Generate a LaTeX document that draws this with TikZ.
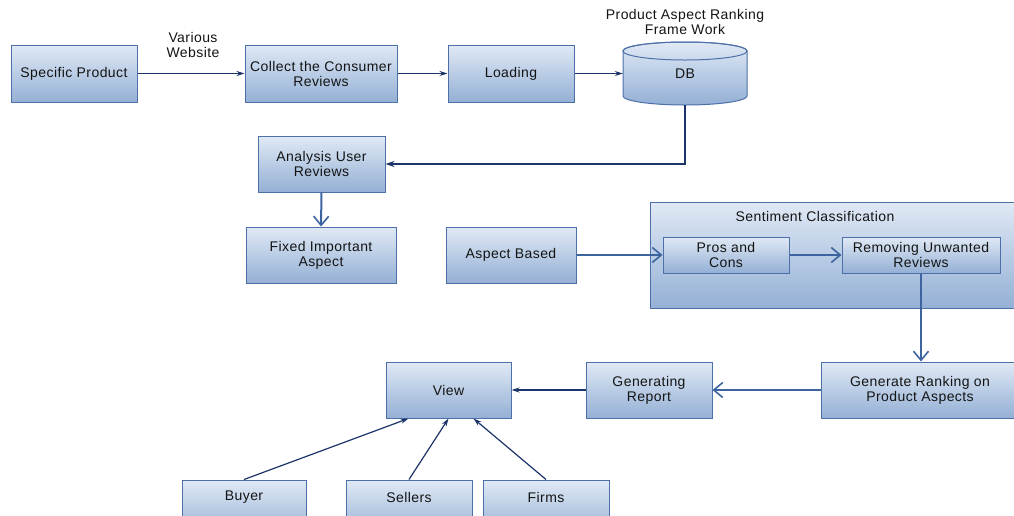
\documentclass[tikz,border=0pt]{standalone}
\usepackage{fontspec}
\setmainfont[LetterSpace=3]{Liberation Sans}
\usetikzlibrary{arrows.meta,calc}
\definecolor{boxtop}{RGB}{224,233,245}
\definecolor{boxbot}{RGB}{148,176,213}
\definecolor{boxline}{RGB}{78,112,168}
\definecolor{navy}{RGB}{28,52,105}
\definecolor{steel}{RGB}{62,100,160}
\definecolor{txt}{RGB}{20,20,20}
\tikzset{
  flowbox/.style={draw=boxline, line width=1pt, top color=boxtop, bottom color=boxbot,
    rectangle, inner sep=0pt, align=center, text=txt,
    font=\fontsize{14}{15}\selectfont},
  plain/.style={inner sep=0pt, align=center, text=txt, font=\fontsize{14}{15}\selectfont},
  arrA/.style={draw=navy, line width=1.2pt, -{Stealth[length=8pt,width=5pt]}},
  arrAthick/.style={draw=navy, line width=2pt, -{Stealth[length=9pt,width=6pt]}},
  arrB/.style={draw=steel, line width=2pt, -{Straight Barb[length=9pt,width=15pt,line width=1.6pt]}},
}
\begin{document}
\begin{tikzpicture}[x=1pt,y=-1pt]
\useasboundingbox (0,0) rectangle (1014,515);
\clip (0,0) rectangle (1014,515);
\fill[white] (0,0) rectangle (1014,515);

% top row
\node[flowbox, minimum width=126pt, minimum height=57pt] (sp) at (74,73.5) {Specific Product};
\node[flowbox, minimum width=152pt, minimum height=57pt] (col) at (321,73.5) {Collect the Consumer\\Reviews};
\node[flowbox, minimum width=126pt, minimum height=57pt] (load) at (511,73.5) {Loading};
\node[plain] (web) at (193,45) {Various\\Website};

% DB cylinder
\shade[top color=boxtop, bottom color=boxbot, draw=boxline, line width=1pt]
  (623,51) -- (623,96) arc[start angle=180, end angle=0, x radius=62, y radius=9]
  -- (747,51) arc[start angle=0, end angle=-180, x radius=62, y radius=9] -- cycle;
\draw[boxline, line width=1pt] (685,51) ellipse[x radius=62, y radius=9];
\node[plain, minimum width=124pt, minimum height=63pt] (db) at (685,73.5) {DB};
\node[plain] (dbt) at (685,22) {Product Aspect Ranking\\Frame Work};

% second rows
\node[flowbox, minimum width=127pt, minimum height=56pt] (ana) at (321.5,164) {Analysis User\\Reviews};
\node[flowbox, minimum width=150pt, minimum height=56pt] (fix) at (321,255) {Fixed Important\\Aspect};
\node[flowbox, minimum width=130pt, minimum height=56pt] (asp) at (511,255) {Aspect Based};

% sentiment classification
\node[flowbox, minimum width=370pt, minimum height=106pt] (sent) at (835,255) {};
\node[plain] (sentt) at (815,216) {Sentiment Classification};
\node[flowbox, minimum width=126pt, minimum height=36pt] (pros) at (726,255) {Pros and\\Cons};
\node[flowbox, minimum width=158pt, minimum height=36pt] (rem) at (921,255) {Removing Unwanted\\Reviews};

% lower row
\node[flowbox, minimum width=198pt, minimum height=56pt] (gen) at (920,390) {Generate Ranking on\\Product Aspects};
\node[flowbox, minimum width=126pt, minimum height=56pt] (rep) at (649,390) {Generating\\Report};
\node[flowbox, minimum width=125pt, minimum height=56pt] (view) at (448.5,390) {View};

% bottom row
\node[flowbox, minimum width=124pt, minimum height=56pt] (buy) at (244,508) {};
\node[plain] (buyt) at (244,497) {Buyer};
\node[flowbox, minimum width=126pt, minimum height=56pt] (sel) at (409,508) {};
\node[plain] (selt) at (409,497) {Sellers};
\node[flowbox, minimum width=126pt, minimum height=56pt] (firm) at (546,508) {};
\node[plain] (firmt) at (546,497) {Firms};

% connectors type A
\draw[arrA] (sp.east) -- (col.west);
\draw[arrA] (col.east) -- (load.west);
\draw[arrA] (load.east) -- (db.west);
\draw[arrAthick] (db.south) |- (ana.east);
\draw[arrA] (rep.west) -- (view.east);
\draw[arrA] (buy.north) -- ([xshift=-40pt]view.south);
\draw[arrA] (sel.north) -- (view.south);
\draw[arrA] (firm.north) -- ([xshift=25pt]view.south);

% connectors type B
\draw[arrB] (ana.south) -- (fix.north);
\draw[arrB] (asp.east) -- (pros.west);
\draw[arrB] (pros.east) -- (rem.west);
\draw[arrB] (rem.south) -- (rem.south |- gen.north);
\draw[arrB] (gen.west) -- (rep.east);
\end{tikzpicture}
\end{document}
